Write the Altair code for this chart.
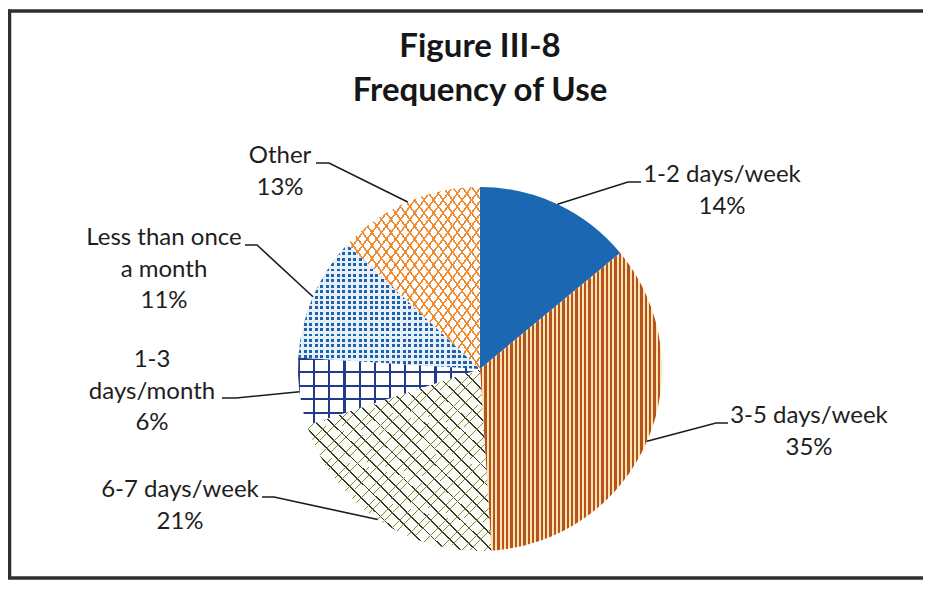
import altair as alt
import pandas as pd
import math

# ---------------- data ----------------
categories = ["1-2 days/week", "3-5 days/week", "6-7 days/week",
              "1-3 days/month", "Less than once a month", "Other"]
values = [14, 35, 21, 6, 11, 13]
label_texts = ["1-2 days/week\n14%", "3-5 days/week\n35%", "6-7 days/week\n21%",
               "1-3\ndays/month\n6%", "Less than once\na month\n11%", "Other\n13%"]
title_lines = ["Figure III-8", "Frequency of Use"]

# ---------------- layout (page px; converted to chart px below) ----------------
M = 8
W, H = 915, 573
CX, CY, R = 480 - M, 369 - M, 182
FS = 24
LH = 31.5
# label: (center x, first baseline y, leader start x, elbow x, leader y)
label_layout = {
    "1-2 days/week": (722, 182, 641, 628, 182),
    "3-5 days/week": (809, 423, 728, 716, 423),
    "6-7 days/week": (180, 497, 262, 274, 497),
    "1-3 days/month": (152, 367, 222, 236, 398),
    "Less than once a month": (164, 245, 245, 257, 245),
    "Other": (280, 163, 316, 329, 163),
}

# ---------------- tables ----------------
rows = []
cum = 0
for c, v, t in zip(categories, values, label_texts):
    rows.append(dict(cat=c, value=v, start=cum, end=cum + v, mid=cum + v / 2, text=t))
    cum += v
pie_df = pd.DataFrame(rows)

lead_rows, lab_rows = [], []
top_off = round(0.79 * FS)
for r in rows:
    lx, lb, sx, ex, ly = label_layout[r["cat"]]
    ang = r["mid"] / 100 * 2 * math.pi
    edge_x = CX + R * math.sin(ang)
    edge_y = CY - R * math.cos(ang)
    lead_rows += [
        dict(cat=r["cat"], o=0, px=sx - M, py=ly - M),
        dict(cat=r["cat"], o=1, px=ex - M, py=ly - M),
        dict(cat=r["cat"], o=2, px=edge_x, py=edge_y),
    ]
    lab_rows.append(dict(cat=r["cat"], text=r["text"], lx=lx - M, ly=lb - M - top_off))
lead_df = pd.DataFrame(lead_rows)
lab_df = pd.DataFrame(lab_rows)
title_df = pd.DataFrame({"t": ["\n".join(title_lines)]})
deco_df = pd.DataFrame({"k": [0]})

# ---------------- pattern fills (striped gradients) ----------------
TR = "rgba(255,255,255,0)"


def stripes(line, bg, n, frac, x1, y1, x2, y2):
    stops = []
    for i in range(n):
        a = round(i / n, 5)
        b = round((i + frac) / n, 5)
        c = round((i + 1) / n, 5)
        stops += [dict(offset=a, color=line), dict(offset=b, color=line),
                  dict(offset=b, color=bg), dict(offset=c, color=bg)]
    return dict(gradient="linear", x1=x1, y1=y1, x2=x2, y2=y2, stops=stops)


VERT = (0, 0, 1, 0)
HORZ = (0, 0, 0, 1)
DIAG1 = (0, 0, 1, 1)
DIAG2 = (0, 1, 1, 0)

fills = [
    ("1-2 days/week", "#1c67b1"),
    ("3-5 days/week", stripes("#b9511f", "#f8e6b2", 42, 0.56, *VERT)),
    ("6-7 days/week", stripes("#34382b", "#fbfcf6", 24, 0.12, *DIAG2)),
    ("6-7 days/week", stripes("#7f8f3c", TR, 48, 0.08, *DIAG1)),
    ("1-3 days/month", stripes("#213a8a", "#ffffff", 12, 0.14, *VERT)),
    ("1-3 days/month", stripes("#213a8a", TR, 5, 0.15, *HORZ)),
    ("Less than once a month", stripes("#1d62aa", "#e6f0fa", 33, 0.55, *VERT)),
    ("Less than once a month", stripes("#e6f0fa", TR, 23, 0.45, *HORZ)),
    ("Other", stripes("#ef8a2e", "#ffffff", 28, 0.21, *DIAG1)),
    ("Other", stripes("#ef8a2e", TR, 28, 0.21, *DIAG2)),
]

theta_scale = alt.Scale(domain=[0, 100], range=[0, 2 * math.pi])

layers = []
for cat, fill in fills:
    layers.append(
        alt.Chart(pie_df)
        .transform_filter(alt.datum.cat == cat)
        .mark_arc(fill=fill, outerRadius=R, strokeWidth=0)
        .encode(
            theta=alt.Theta("start:Q", scale=theta_scale),
            theta2="end:Q",
            x=alt.value(CX),
            y=alt.value(CY),
        )
    )

leaders = alt.Chart(lead_df).mark_line(color="#1b1b1b", strokeWidth=1.6).encode(
    x=alt.X("px:Q", scale=None),
    y=alt.Y("py:Q", scale=None),
    detail="cat:N",
    order="o:Q",
)

labels = alt.Chart(lab_df).mark_text(
    font="Lato", fontSize=FS, color="#1e1e1e", align="center", baseline="top",
    lineBreak="\n", lineHeight=LH,
).encode(
    x=alt.X("lx:Q", scale=None),
    y=alt.Y("ly:Q", scale=None),
    text="text:N",
)

title = alt.Chart(title_df).mark_text(
    font="Lato", fontSize=33, fontWeight="bold", color="#161616", align="center",
    baseline="top", lineBreak="\n", lineHeight=44,
).encode(
    x=alt.value(CX),
    y=alt.value(57 - M - round(0.79 * 33)),
    text="t:N",
)

FR = "#2f2f2f"
frame_top = alt.Chart(deco_df).mark_rule(color=FR, strokeWidth=3.5).encode(
    x=alt.value(0), x2=alt.value(W), y=alt.value(3))
frame_left = alt.Chart(deco_df).mark_rule(color=FR, strokeWidth=3.5).encode(
    x=alt.value(1.5), y=alt.value(1.5), y2=alt.value(571))
frame_bottom = alt.Chart(deco_df).mark_rule(color=FR, strokeWidth=3.5).encode(
    x=alt.value(0), x2=alt.value(W), y=alt.value(570))

chart = alt.layer(
    frame_top, frame_left, frame_bottom, *layers, leaders, labels, title
).properties(
    width=W, height=H, autosize="none", padding=0, background="white"
).configure_view(stroke=None)

chart.save("out.html", embed_options={"renderer": "svg", "actions": False})
